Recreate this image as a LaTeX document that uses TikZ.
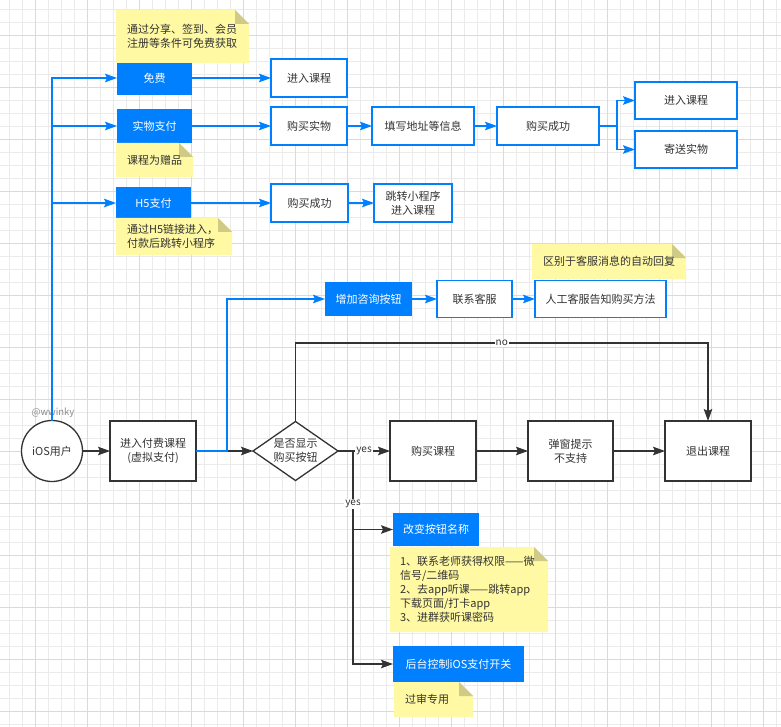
\documentclass[tikz,border=0pt]{standalone}
\usepackage{fontspec}
\setmainfont{Noto Sans CJK SC}
\usetikzlibrary{shapes.geometric,arrows.meta}
\definecolor{bl}{HTML}{007FFF}
\definecolor{tx}{HTML}{333333}
\definecolor{ny}{HTML}{FFF9A3}
\definecolor{nf}{HTML}{CFCB86}
\definecolor{gmin}{HTML}{EBEBEB}
\definecolor{gmaj}{HTML}{DADADA}
\definecolor{wmc}{HTML}{8C8C8C}
\begin{document}
\begin{tikzpicture}[x=1pt,y=-1pt,
 every node/.style={font=\fontsize{11}{14}\selectfont, text=tx, inner sep=0pt, outer sep=0pt, align=center},
 bfill/.style={rectangle, fill=bl, text=white},
 bline/.style={rectangle, fill=white, draw=bl, line width=1.4pt},
 kbox/.style={rectangle, fill=white, draw=tx, line width=1.3pt},
 note/.style={rectangle, align=left, path picture={
   \fill[ny] (path picture bounding box.north west) -- ([xshift=-14pt]path picture bounding box.north east) -- ([yshift=-14pt]path picture bounding box.north east) -- (path picture bounding box.south east) -- (path picture bounding box.south west) -- cycle;
   \fill[nf] ([xshift=-14pt]path picture bounding box.north east) -- ([xshift=-14pt,yshift=-14pt]path picture bounding box.north east) -- ([yshift=-14pt]path picture bounding box.north east) -- cycle;}},
 barr/.style={draw=bl, line width=1.3pt, -{Stealth[length=12pt,width=8.5pt,inset=2pt]}},
 karr/.style={draw=tx, line width=1.3pt, -{Stealth[length=12pt,width=8.5pt,inset=2pt]}},
 lab/.style={fill=white, font=\fontsize{10}{12}\selectfont, inner sep=1pt}
]
\fill[white] (0,0) rectangle (781,727);
\useasboundingbox (0,0) rectangle (781,727);
% grid
\foreach \k in {0,...,59} { \draw[gmin, line width=0.7pt] ({9+13*\k},0) -- ({9+13*\k},727); }
\foreach \k in {0,...,55} { \draw[gmin, line width=0.7pt] (0,{9+13*\k}) -- (781,{9+13*\k}); }
\foreach \k in {0,...,14} { \draw[gmaj, line width=0.7pt] ({35+52*\k},0) -- ({35+52*\k},727); }
\foreach \k in {0,...,13} { \draw[gmaj, line width=0.7pt] (0,{35+52*\k}) -- (781,{35+52*\k}); }

% top branch nodes
\node[bfill, minimum width=75pt, minimum height=34pt] (free) at (154.5,78) {免费};
\node[bline, minimum width=76pt, minimum height=38pt] (jinru1) at (309,78) {进入课程};
\node[bfill, minimum width=75pt, minimum height=34pt] (wuli) at (154.5,126) {实物支付};
\node[bline, minimum width=76pt, minimum height=38pt] (gmsw) at (309,126) {购买实物};
\node[bline, minimum width=102pt, minimum height=38pt] (txdz) at (423,126) {填写地址等信息};
\node[bline, minimum width=102pt, minimum height=38pt] (gmcg2) at (548,126) {购买成功};
\node[bline, minimum width=102pt, minimum height=37pt] (jinru2) at (686,100.5) {进入课程};
\node[bline, minimum width=102pt, minimum height=37pt] (jisong) at (686,149.5) {寄送实物};
\node[bfill, minimum width=75pt, minimum height=32pt] (h5) at (153.5,203) {H5支付};
\node[bline, minimum width=77pt, minimum height=38pt] (gmcg3) at (309.5,203) {购买成功};
\node[bline, minimum width=78pt, minimum height=38pt] (tz) at (413,203) {跳转小程序\\进入课程};
\node[bfill, minimum width=87pt, minimum height=34pt] (zixun) at (368.5,299) {增加咨询按钮};
\node[bline, minimum width=75pt, minimum height=37pt] (kefu) at (474.5,299) {联系客服};
\node[bline, minimum width=131pt, minimum height=37pt] (rengong) at (600.5,299) {人工客服告知购买方法};

% main row
\node[circle, draw=tx, fill=white, line width=1.3pt, minimum size=61pt] (ios) at (52,451) {iOS用户};
\node[font=\fontsize{9.5}{11}\selectfont, text=wmc] (wm) at (53,413) {@wwinky};
\node[kbox, minimum width=86pt, minimum height=60pt] (entry) at (153,451) {进入付费课程\\(虚拟支付)};
\node[diamond, draw=tx, fill=white, line width=1.3pt, aspect=1.44, minimum width=85pt, minimum height=59pt] (dia) at (295.5,451) {是否显示\\购买按钮};
\node[kbox, minimum width=86pt, minimum height=60pt] (buy) at (433,451) {购买课程};
\node[kbox, minimum width=85pt, minimum height=60pt] (tanchuang) at (570.5,451) {弹窗提示\\不支持};
\node[kbox, minimum width=86pt, minimum height=60pt] (quit) at (708,451) {退出课程};
\node[bfill, minimum width=86pt, minimum height=33pt] (gaibian) at (436,529.5) {改变按钮名称};
\node[bfill, minimum width=131pt, minimum height=36pt] (houtai) at (458.5,664) {后台控制iOS支付开关};

% notes
\node[note, minimum width=133pt, minimum height=53pt, text width=111pt] (n1) at (182.5,36.5) {通过分享、签到、会员\\注册等条件可免费获取};
\node[note, minimum width=77pt, minimum height=34pt, text width=55pt] (n2) at (154.5,160) {课程为赠品};
\node[note, minimum width=116pt, minimum height=37pt, text width=94pt] (n3) at (174,236.5) {通过H5链接进入，\\付款后跳转小程序};
\node[note, minimum width=154pt, minimum height=35pt, text width=132pt] (n4) at (609,261.5) {区别于客服消息的自动回复};
\node[note, minimum width=158pt, minimum height=85pt, text width=138pt] (n5) at (469,589.5) {1、联系老师获得权限——微\\信号/二维码\\2、去app听课——跳转app\\下载页面/打卡app\\3、进群获听课密码};
\node[note, minimum width=79pt, minimum height=35pt, text width=57pt] (n6) at (433.5,699.5) {过审专用};

% blue connectors
\draw[barr] (ios.north) |- (free.west);
\draw[barr] (ios.north) |- (wuli.west);
\draw[barr] (ios.north) |- (h5.west);
\draw[barr] (free) -- (jinru1);
\draw[barr] (wuli) -- (gmsw);
\draw[barr] (gmsw) -- (txdz);
\draw[barr] (txdz) -- (gmcg2);
\coordinate (sp) at (617,126);
\draw[barr] (gmcg2.east) -- (sp) |- (jinru2.west);
\draw[barr] (sp) |- (jisong.west);
\draw[barr] (h5) -- (gmcg3);
\draw[barr] (gmcg3) -- (tz);
\draw[barr] (zixun) -- (kefu);
\draw[barr] (kefu) -- (rengong);

% black connectors
\draw[karr] (ios) -- (entry);
\draw[karr] (entry) -- (dia);
\coordinate (bj) at (227,451);
\draw[barr] (entry.east) -- (bj) |- (zixun.west);
\coordinate (yb) at (353,451);
\draw[karr] (yb) |- (gaibian.west);
\draw[karr] (yb) |- node[lab,pos=0.125]{yes} (houtai.west);
\draw[karr] (dia) -- node[lab]{yes} (buy);
\coordinate (nt) at (295.5,343);
\draw[karr] (dia.north) -- (nt) -| node[lab,pos=0.25]{no} (quit.north);
\draw[karr] (buy) -- (tanchuang);
\draw[karr] (tanchuang) -- (quit);
\end{tikzpicture}
\end{document}
